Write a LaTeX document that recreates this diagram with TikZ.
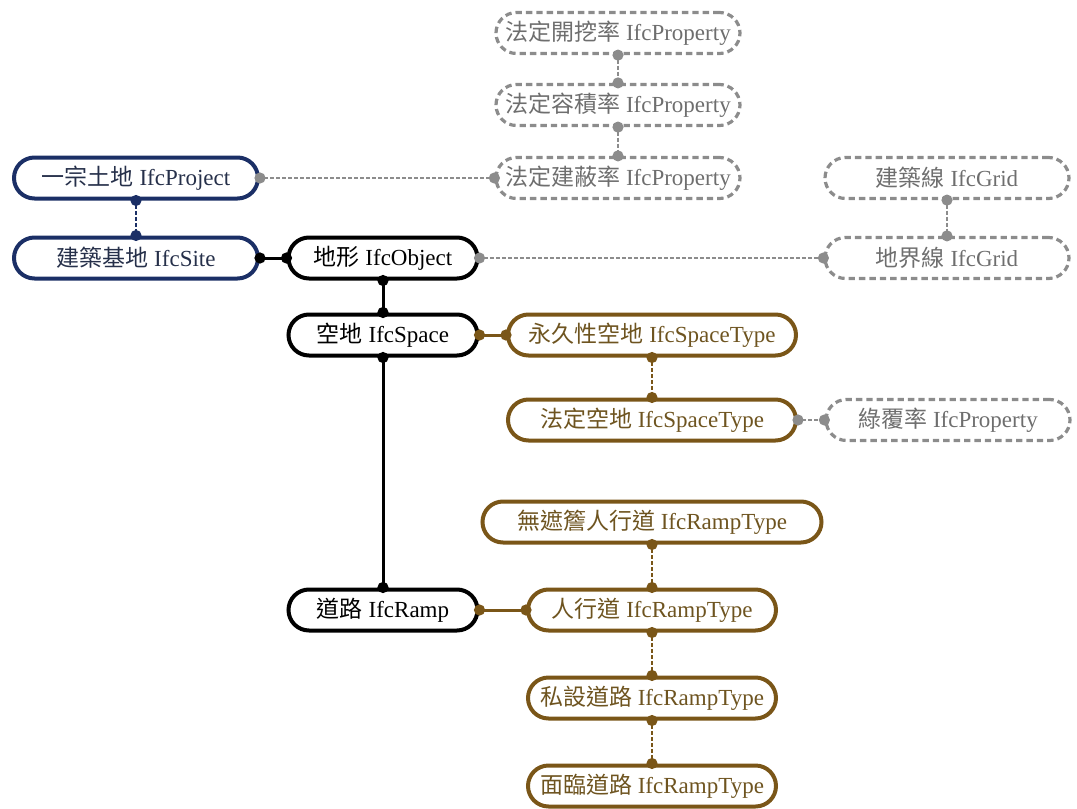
\documentclass[tikz,border=0pt]{standalone}
\usepackage{fontspec}
\setmainfont{Liberation Serif}
\newfontfamily\cjk{Noto Sans CJK TC}
\usetikzlibrary{arrows.meta}

\definecolor{navyline}{HTML}{1B2F66}
\definecolor{navytext}{HTML}{26304A}
\definecolor{brownline}{HTML}{7A5618}
\definecolor{browntext}{HTML}{6E5420}
\definecolor{greyline}{HTML}{8C8C8C}
\definecolor{greytext}{HTML}{6E6E6E}

\tikzset{
  box/.style={draw, line width=2pt, rounded corners=10.25pt, minimum height=20.5pt,
    inner sep=0pt, font=\fontsize{11.5}{13}\selectfont},
  navybox/.style={box, draw=navyline, text=navytext, minimum width=122pt},
  blackbox/.style={box, draw=black, text=black, minimum width=94.5pt},
  brownbox/.style={box, draw=brownline, text=browntext},
  greybox/.style={box, draw=greyline, text=greytext, line width=1.6pt,
    dash pattern=on 3.2pt off 2pt, minimum width=122pt},
  link/.style={line width=1.5pt, {Circle[length=5.5pt]}-{Circle[length=5.5pt]},
    shorten <=-2.75pt, shorten >=-2.75pt},
  dlink/.style={link, line width=1.1pt, dash pattern=on 2pt off 1pt}
}

\begin{document}
\begin{tikzpicture}[x=0.5pt, y=-0.5pt]
    \useasboundingbox (0,0) rectangle (1077,809);

    % site side
    \node[navybox] (project) at (136,178) {{\cjk 一宗土地} IfcProject};
    \node[navybox] (site) at (136,258) {{\cjk 建築基地} IfcSite};

    \node[blackbox] (object) at (383,258) {{\cjk 地形} IfcObject};
    \node[blackbox] (space) at (383,335) {{\cjk 空地} IfcSpace};
    \node[blackbox] (ramp) at (383,610) {{\cjk 道路} IfcRamp};

    % properties and grids
    \node[greybox] (dig) at (618,33) {{\cjk 法定開挖率} IfcProperty};
    \node[greybox] (far) at (618,105) {{\cjk 法定容積率} IfcProperty};
    \node[greybox] (bcr) at (618,178) {{\cjk 法定建蔽率} IfcProperty};
    \node[greybox] (bline) at (947,178) {{\cjk 建築線} IfcGrid};
    \node[greybox] (lline) at (947,258) {{\cjk 地界線} IfcGrid};
    \node[greybox] (green) at (948,420) {{\cjk 綠覆率} IfcProperty};

    % space types
    \node[brownbox, minimum width=144pt] (perm) at (652,335) {{\cjk 永久性空地} IfcSpaceType};
    \node[brownbox, minimum width=144pt] (legal) at (652,420) {{\cjk 法定空地} IfcSpaceType};

    % ramp types
    \node[brownbox, minimum width=169.5pt] (arcade) at (652,522) {{\cjk 無遮簷人行道} IfcRampType};
    \node[brownbox, minimum width=124pt] (walk) at (652,610) {{\cjk 人行道} IfcRampType};
    \node[brownbox, minimum width=124pt] (private) at (652,698) {{\cjk 私設道路} IfcRampType};
    \node[brownbox, minimum width=124pt] (front) at (652,786) {{\cjk 面臨道路} IfcRampType};

    \draw[dlink, navyline] (project.south) -- (site.north);
    \draw[link] (site.east) -- (object.west);
    \draw[link] (object.south) -- (space.north);
    \draw[link] (space.south) -- (ramp.north);

    \draw[dlink, greyline] (project.east) -- (bcr.west);
    \draw[dlink, greyline] (dig.south) -- (far.north);
    \draw[dlink, greyline] (far.south) -- (bcr.north);
    \draw[dlink, greyline] (object.east) -- (lline.west);
    \draw[dlink, greyline] (bline.south) -- (lline.north);
    \draw[dlink, greyline] (legal.east) -- (green.west);

    \draw[link, brownline] (space.east) -- (perm.west);
    \draw[dlink, brownline] (perm.south) -- (legal.north);
    \draw[link, brownline] (ramp.east) -- (walk.west);
    \draw[dlink, brownline] (arcade.south) -- (walk.north);
    \draw[dlink, brownline] (walk.south) -- (private.north);
    \draw[dlink, brownline] (private.south) -- (front.north);
\end{tikzpicture}
\end{document}
